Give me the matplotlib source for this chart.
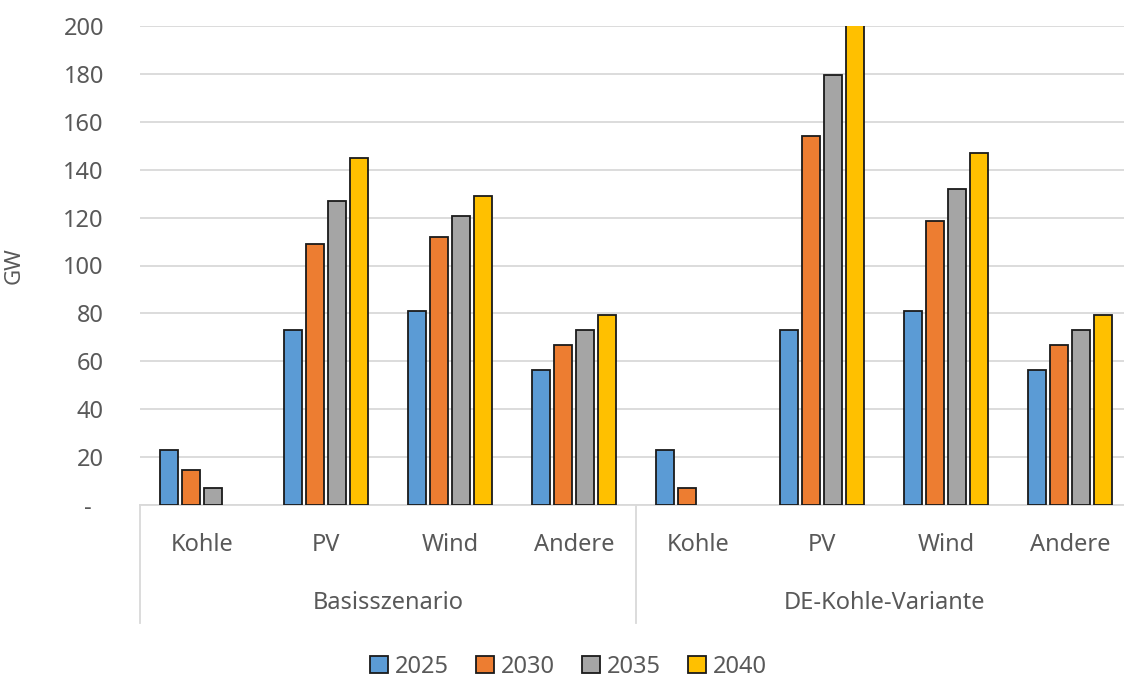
import numpy as np
import matplotlib
matplotlib.use("Agg")
import matplotlib.pyplot as plt

plt.rcParams['font.family'] = ['Noto Sans', 'DejaVu Sans']

# Installierte Leistung in GW je Szenario und Technologie
szenarien = ['Basisszenario', 'DE-Kohle-Variante']
technologien = ['Kohle', 'PV', 'Wind', 'Andere']
jahre = ['2025', '2030', '2035', '2040']

gw_2025 = [23, 73, 81, 56.5, 23, 73, 81, 56.5]
gw_2030 = [14.5, 109, 112, 67, 7, 154, 118.5, 67]
gw_2035 = [7, 127, 120.5, 73, 0, 179.5, 132, 73]
gw_2040 = [0, 145, 129, 79.5, 0, 212, 147, 79.5]

farben = ['#5B9BD5', '#ED7D31', '#A5A5A5', '#FFC000']
textfarbe = '#595959'
gitterfarbe = '#D9D9D9'

fig = plt.figure(figsize=(11.24, 6.79), dpi=100)
ax = fig.add_axes([140 / 1124, 174 / 679, 992 / 1124, 479 / 679])

x = np.arange(len(szenarien) * len(technologien))
schritt = 0.177
breite = 0.15
for i, (werte, jahr) in enumerate(zip([gw_2025, gw_2030, gw_2035, gw_2040], jahre)):
    werte = np.asarray(werte, dtype=float)
    sichtbar = werte > 0  # Nullwerte erzeugen keinen Balken
    ax.bar(x[sichtbar] + (i - 1.5) * schritt, werte[sichtbar], breite, color=farben[i],
           edgecolor='#1a1a1a', linewidth=1.3, label=jahr, zorder=3)

ax.set_xlim(-0.5, len(x) - 0.5)
ax.set_ylim(0, 200)
ax.set_yticks(range(0, 201, 20))
ax.set_yticklabels(['-  '] + [str(v) for v in range(20, 201, 20)])
ax.tick_params(axis='y', length=0, pad=26, labelsize=17, labelcolor=textfarbe)
ax.set_xticks([])
ax.grid(axis='y', color=gitterfarbe, linewidth=1.3, zorder=0)
for s in ['left', 'right', 'top']:
    ax.spines[s].set_visible(False)
ax.spines['bottom'].set_color(gitterfarbe)
ax.spines['bottom'].set_linewidth(1.3)

ax.set_ylabel('GW', fontsize=16, color=textfarbe)
ax.yaxis.set_label_coords(-0.116, 0.5)

# zweistufige Kategorienachse
trenner_unten = -0.246
for xs in [-0.5, 3.5, 7.5]:
    ax.plot([xs, xs], [0, trenner_unten], color=gitterfarbe, linewidth=1.3,
            transform=ax.get_xaxis_transform(), clip_on=False)
for xi in x:
    ax.text(xi, -0.084, technologien[xi % 4], transform=ax.get_xaxis_transform(),
            ha='center', va='center', fontsize=17, color=textfarbe)
for j, name in enumerate(szenarien):
    ax.text(j * 4 + 1.5, -0.205, name, transform=ax.get_xaxis_transform(),
            ha='center', va='center', fontsize=17, color=textfarbe)

fig.legend(loc='center', bbox_to_anchor=(0.506, 0.018), ncol=4, frameon=False,
           fontsize=17, labelcolor=textfarbe, handlelength=0.75, handleheight=0.75,
           handletextpad=0.3, columnspacing=1.15)

fig.savefig('out.png', dpi=100)
